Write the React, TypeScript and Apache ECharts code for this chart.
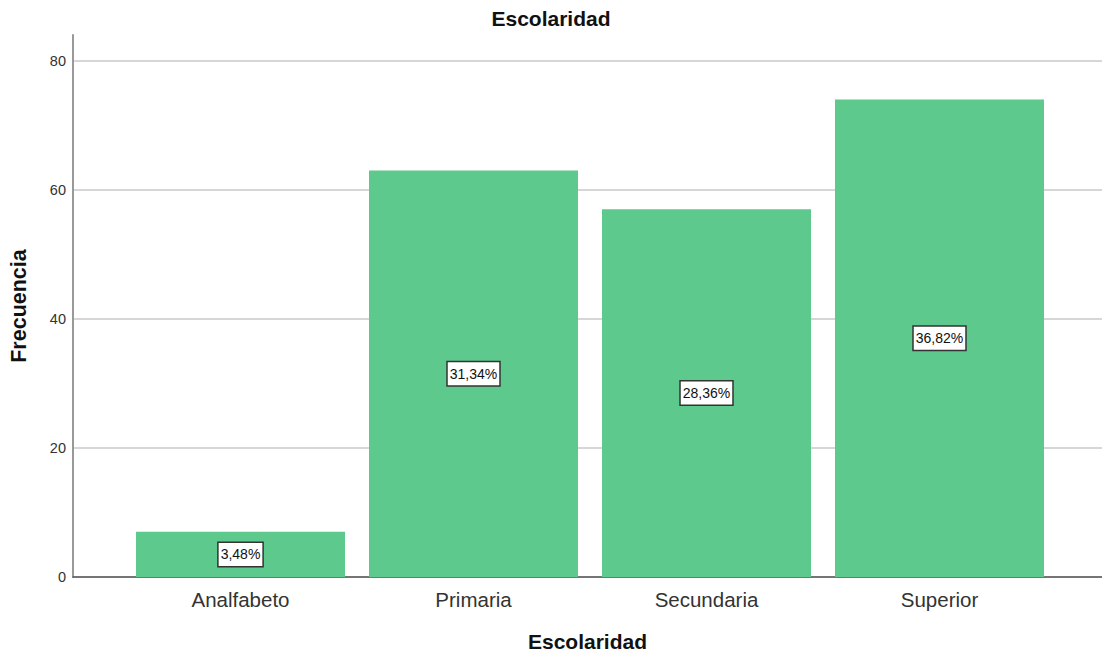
import React, { useEffect, useRef } from "react";
import * as echarts from "echarts";

// Education level frequencies
const categories = ["Analfabeto", "Primaria", "Secundaria", "Superior"];
const frequencies = [7, 63, 57, 74];
const yTicks = [0, 20, 40, 60, 80];

const total = frequencies.reduce((a, b) => a + b, 0);
const pct = (v: number) => ((v / total) * 100).toFixed(2).replace(".", ",") + "%";

const FONT = "'Liberation Sans', Arial, sans-serif";
const BAR_COLOR = "#5ec98c";

export default function App() {
  const ref = useRef<HTMLDivElement>(null);

  useEffect(() => {
    if (!ref.current) return;
    const chart = echarts.init(ref.current, undefined, { renderer: "svg" });
    const yMax = 84;
    chart.setOption({
      animation: false,
      textStyle: { fontFamily: FONT },
      title: {
        text: "Escolaridad",
        left: "center",
        top: 3,
        textStyle: { fontFamily: FONT, fontSize: 21, fontWeight: "bold", color: "#111" },
      },
      grid: [
        { left: 73, right: 0, top: 35, bottom: 80, outerBoundsMode: "none", containLabel: false },
        { left: 124, right: 46, top: 35, bottom: 80, outerBoundsMode: "none", containLabel: false },
      ],
      xAxis: [
        {
          type: "value",
          gridIndex: 0,
          min: 0,
          max: 1,
          axisLine: { show: true, lineStyle: { color: "#555", width: 1.5 } },
          axisTick: { show: false },
          axisLabel: { show: false },
          splitLine: { show: false },
          name: "Escolaridad",
          nameLocation: "middle",
          nameGap: 54,
          nameTextStyle: { fontFamily: FONT, fontSize: 21, fontWeight: "bold", color: "#111" },
        },
        {
          type: "category",
          gridIndex: 1,
          data: categories,
          axisLine: { show: false },
          axisTick: { show: false },
          axisLabel: { fontFamily: FONT, fontSize: 20.5, color: "#333", margin: 12 },
        },
      ],
      yAxis: [
        {
          type: "value",
          gridIndex: 0,
          min: 0,
          max: yMax,
          interval: 20,
          axisLine: { show: true, lineStyle: { color: "#999", width: 2 } },
          axisTick: { show: false },
          axisLabel: {
            fontFamily: FONT,
            fontSize: 14.5,
            color: "#333",
            margin: 7,
            showMaxLabel: false,
            formatter: (v: number) => (yTicks.includes(v) ? String(v) : ""),
          },
          splitLine: { show: true, showMaxLine: false, lineStyle: { color: "#c8c8c8", width: 1.5 } },
          name: "Frecuencia",
          nameLocation: "middle",
          nameGap: 43,
          nameTextStyle: { fontFamily: FONT, fontSize: 21.5, fontWeight: "bold", color: "#111" },
        },
        {
          type: "value",
          gridIndex: 1,
          min: 0,
          max: yMax,
          show: false,
        },
      ],
      series: [
        {
          type: "bar",
          xAxisIndex: 1,
          yAxisIndex: 1,
          data: frequencies,
          barWidth: 209,
          itemStyle: { color: BAR_COLOR },
          label: {
            show: true,
            position: "inside",
            formatter: (p: any) => pct(p.value),
            fontFamily: FONT,
            fontSize: 14,
            color: "#111",
            backgroundColor: "#fff",
            borderColor: "#333",
            borderWidth: 1.5,
            padding: [5, 2, 4, 2],
          },
        },
      ],
    });
    return () => chart.dispose();
  }, []);

  return (
    <div
      ref={ref}
      style={{ position: "absolute", left: 0, top: 0, width: 1102, height: 657 }}
    />
  );
}
